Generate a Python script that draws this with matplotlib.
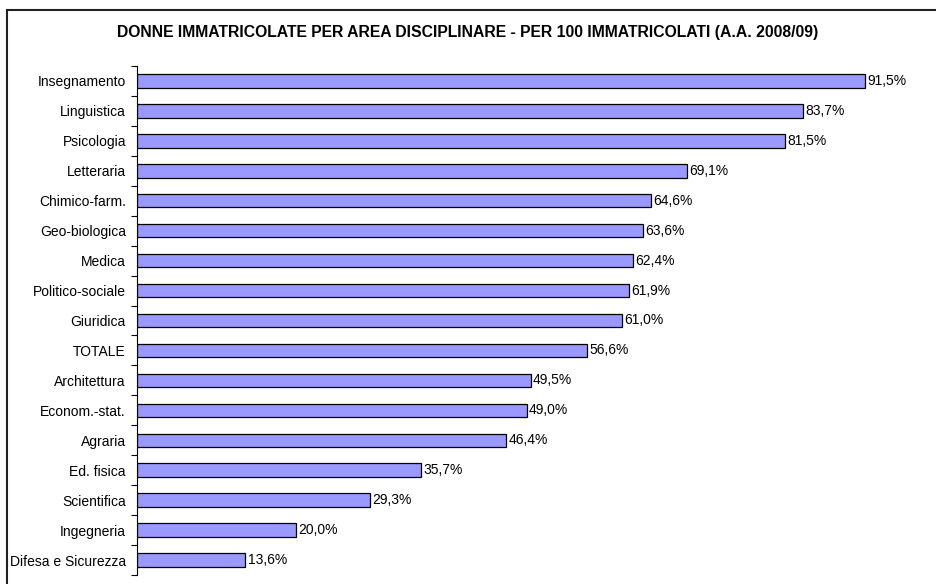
import matplotlib
matplotlib.use('Agg')
import matplotlib.pyplot as plt
import numpy as np

DPI = 100

categories = ['Insegnamento', 'Linguistica', 'Psicologia', 'Letteraria', 'Chimico-farm.',
              'Geo-biologica', 'Medica', 'Politico-sociale', 'Giuridica', 'TOTALE',
              'Architettura', 'Econom.-stat.', 'Agraria', 'Ed. fisica', 'Scientifica',
              'Ingegneria', 'Difesa e Sicurezza']
values = [91.5, 83.7, 81.5, 69.1, 64.6, 63.6, 62.4, 61.9, 61.0, 56.6,
          49.5, 49.0, 46.4, 35.7, 29.3, 20.0, 13.6]

title = 'DONNE IMMATRICOLATE PER AREA DISCIPLINARE - PER 100 IMMATRICOLATI (A.A. 2008/09)'

plt.rcParams['font.family'] = ['Liberation Sans', 'DejaVu Sans']

fig = plt.figure(figsize=(936 / DPI, 584 / DPI), dpi=DPI)

# outer frame (only top and left visible in reference)
fig.add_artist(plt.Rectangle((7 / 936, -0.1), 1.2, 1 - 10 / 584 + 0.1,
                             transform=fig.transFigure, fill=False,
                             edgecolor='#222222', linewidth=1.5))

ax = fig.add_axes([137 / 936, 1 - 575 / 584, (910 - 137) / 936, (575 - 66) / 584])

n = len(categories)
y = np.arange(n)
ax.barh(y, values, height=0.45, color='#9999ff', edgecolor='black', linewidth=0.9)

for yi, v in zip(y, values):
    ax.text(v + 0.3, yi, ('%.1f' % v).replace('.', ',') + '%',
            va='center', ha='left', fontsize=10)

ax.set_xlim(0, 97.2)
ax.set_ylim(n - 0.5, -0.5)
ax.set_yticks(y)
ax.set_yticklabels(categories, fontsize=10)
ax.set_yticks(np.arange(n + 1) - 0.5, minor=True)
ax.tick_params(axis='y', which='major', length=0, pad=8)
ax.tick_params(axis='y', which='minor', length=4, width=0.8, direction='out')
ax.set_xticks([])
for s in ['top', 'right', 'bottom']:
    ax.spines[s].set_visible(False)
ax.spines['left'].set_linewidth(0.8)

fig.text(0.5, 1 - 33 / 584, title, ha='center', va='center',
         fontsize=11.3, fontweight='bold')

fig.savefig('out.png', dpi=DPI)
